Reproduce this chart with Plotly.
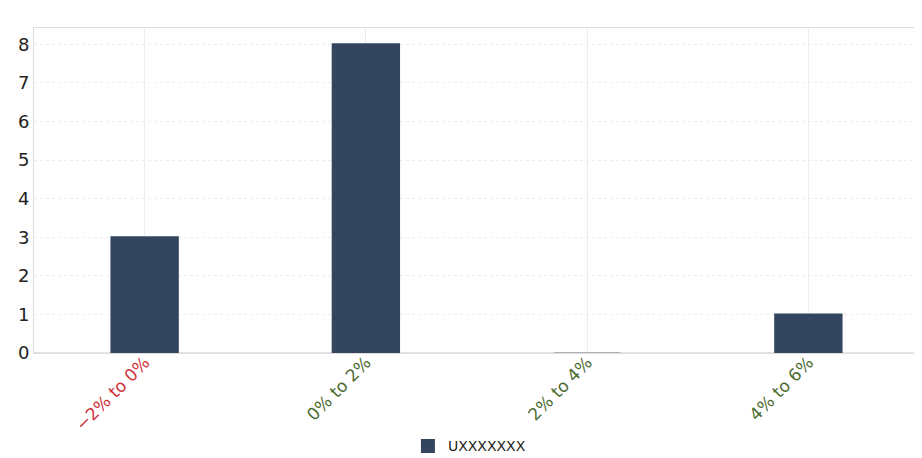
import plotly.graph_objects as go

categories = ["−2% to 0%", "0% to 2%", "2% to 4%", "4% to 6%"]
values = [3, 8, 0, 1]
label_colors = ["#d0313a", "#4b6b30", "#4b6b30", "#4b6b30"]
series_name = "UXXXXXXX"

ticktext = ["<span style='color:%s'>%s</span>" % (c, t) for c, t in zip(label_colors, categories)]

fig = go.Figure()
fig.add_trace(go.Bar(
    x=categories, y=values, name=series_name,
    marker=dict(color="#33455f",
                line=dict(color=["#33455f", "#33455f", "#aeb3bb", "#33455f"], width=2)),
    width=0.3,
))

# page body has an 8px margin, so the figure is shifted by that much
fig.update_layout(
    width=922, height=458,
    margin=dict(l=26, r=11, t=20, b=113, autoexpand=False),
    paper_bgcolor="white", plot_bgcolor="white",
    font=dict(family="DejaVu Sans", color="#222"),
    showlegend=True,
    legend=dict(orientation="h", x=0.492, xanchor="center", y=-0.238, yanchor="top",
                font=dict(size=14, color="#222")),
)
fig.update_xaxes(
    tickmode="array", tickvals=categories, ticktext=ticktext,
    tickangle=-45, tickfont=dict(size=17), automargin=False,
    ticklabelstandoff=-8,
    showgrid=True, gridcolor="#ececec", gridwidth=1,
    showline=True, linecolor="#dddddd", mirror=True,
    ticks="",
)
fig.update_yaxes(
    range=[0, 8.42], dtick=1, tickfont=dict(size=18), automargin=False,
    showgrid=True, gridcolor="#ececec", griddash="dot",
    showline=True, linecolor="#dddddd", mirror=True,
    zeroline=True, zerolinecolor="#e4e4e4", zerolinewidth=2,
    ticks="",
)

fig.write_html("out.html")
